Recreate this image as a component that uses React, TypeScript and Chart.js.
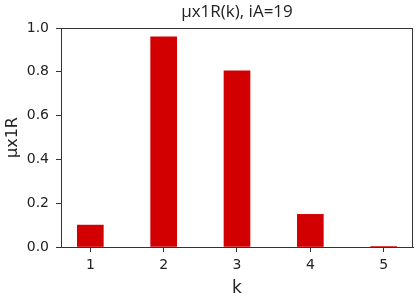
import React, { useEffect, useRef } from "react";
import { Chart, registerables } from "chart.js";

Chart.register(...registerables);

const titleText = "μx1R(k), iA=19";
const xLabel = "k";
const yLabel = "μx1R";
const categories = [1, 2, 3, 4, 5];
const values = [0.1, 0.96, 0.805, 0.149, 0.002];
const yTicks = [0, 0.2, 0.4, 0.6, 0.8, 1.0];
const xTicks = [1, 2, 3, 4, 5];

const W = 418;
const H = 299;

export default function App() {
  const ref = useRef<HTMLCanvasElement>(null);
  useEffect(() => {
    document.body.style.margin = "0";
    const ctx = ref.current!.getContext("2d")!;
    const framePlugin = {
      id: "frame",
      afterDraw(chart: any) {
        const { ctx, chartArea: a } = chart;
        ctx.save();
        ctx.strokeStyle = "#333";
        ctx.lineWidth = 1;
        ctx.beginPath();
        ctx.moveTo(a.left, a.top + 0.5);
        ctx.lineTo(a.right, a.top + 0.5);
        ctx.moveTo(a.right - 0.5, a.top);
        ctx.lineTo(a.right - 0.5, a.bottom);
        ctx.stroke();
        ctx.fillStyle = "#222";
        ctx.font = "17px 'Open Sans'";
        ctx.textAlign = "center";
        ctx.textBaseline = "middle";
        ctx.fillText(titleText, (a.left + a.right) / 2, 12);
        ctx.restore();
      },
    };
    const chart = new Chart(ctx, {
      type: "bar",
      data: {
        datasets: [
          {
            data: categories.map((c, i) => ({ x: c, y: values[i] })),
            backgroundColor: "#d20000",
            barThickness: 26,
          },
        ],
      },
      options: {
        animation: false,
        responsive: false,
        devicePixelRatio: 1,
        layout: { padding: { left: 0, right: 5, top: 28, bottom: 0 } },
        plugins: { legend: { display: false }, tooltip: { enabled: false } },
        scales: {
          x: {
            type: "linear",
            min: 0.6,
            max: 5.4,
            offset: false,
            afterFit: (s: any) => {
              s.height = 52;
            },
            afterBuildTicks: (s: any) => {
              s.ticks = xTicks.map((v) => ({ value: v }));
            },
            grid: {
              drawOnChartArea: false,
              offset: false,
              tickLength: 5,
              color: "#333",
            },
            border: { color: "#333", width: 1 },
            ticks: {
              padding: 5,
              color: "#222",
              font: { family: "DejaVu Sans", size: 14 },
              callback: (v: any) => String(v),
            },
            title: {
              display: true,
              text: xLabel,
              color: "#222",
              font: { family: "DejaVu Sans", size: 17 },
              padding: { top: 0, bottom: 0 },
            },
          },
          y: {
            min: 0,
            max: 1,
            afterFit: (s: any) => {
              s.width = 61;
            },
            afterBuildTicks: (s: any) => {
              s.ticks = yTicks.map((v) => ({ value: v }));
            },
            grid: {
              drawOnChartArea: false,
              tickLength: 5,
              color: "#333",
            },
            border: { color: "#333", width: 1 },
            ticks: {
              padding: 7,
              color: "#222",
              font: { family: "DejaVu Sans", size: 14 },
              callback: (v: any) => Number(v).toFixed(1),
            },
            title: {
              display: true,
              text: yLabel,
              color: "#222",
              font: { family: "DejaVu Sans", size: 16 },
              padding: { top: 3, bottom: 0 },
            },
          },
        },
      },
      plugins: [framePlugin],
    });
    return () => chart.destroy();
  }, []);
  return (
    <div style={{ width: W, height: H, background: "#fff" }}>
      <canvas ref={ref} width={W} height={H} style={{ width: W, height: H, display: "block" }} />
    </div>
  );
}
